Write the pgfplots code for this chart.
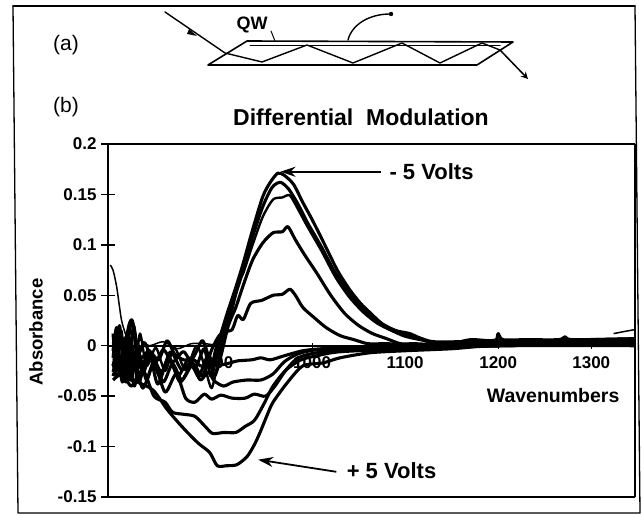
\documentclass[border=0pt]{standalone}
\usepackage{pgfplots}
\pgfplotsset{compat=1.18}
\usepackage{fontspec}
\setmainfont{Liberation Sans}
\usetikzlibrary{arrows.meta}
\tikzset{thk/.style={black,line width=3.1pt,solid,mark=none,smooth,tension=0.45,line join=round},
         thn/.style={black,line width=1.5pt,solid,mark=none,smooth,tension=0.45}}
\begin{document}
\begin{tikzpicture}[x=1pt,y=1pt,line cap=round,line join=round]
\path[use as bounding box,fill=white] (0,0) rectangle (642,514);
\begin{scope}[shift={(0,514)},y=-1pt]
\draw[line width=1.8pt] (13,6) -- (635,6);
\draw[line width=1.3pt] (635,6) -- (640,513) -- (18,513) -- (13,6);
% schematic (a)
\draw[line width=1.6pt] (247,41) -- (513,42) -- (477,65) -- (208,65) -- cycle;
\draw[line width=1pt] (250,46) -- (500,46);
\draw[line width=1.4pt] (165,12) -- (225,53) -- (262,62) -- (307,45) -- (353,63) -- (402,43) -- (440,63) -- (482,43) -- (500,50);
\draw[line width=1.5pt,-{Stealth[length=7pt,width=7pt]}] (500,50) -- (528,79);
\fill (189,29) -- (197,36) -- (187,34) -- cycle;
\draw[line width=1.4pt] (348,40) .. controls (352,24) and (370,14) .. (390,14);
\fill (391,14) circle (2.2pt);
\draw[line width=1pt] (271,31) -- (275,41);
\node[font=\bfseries\fontsize{18}{18}\selectfont,anchor=center] at (252,25) {QW};
\node[font=\fontsize{21}{21}\selectfont,anchor=center] at (66,45) {(a)};
\node[font=\fontsize{21}{21}\selectfont,anchor=center] at (66,107) {(b)};
\node[font=\bfseries\fontsize{23}{23}\selectfont,anchor=center] at (361,117) {Differential\ \ Modulation};
\node[font=\bfseries\fontsize{18.5}{18.5}\selectfont,rotate=90,anchor=center] at (36,332) {Absorbance};
\end{scope}
\begin{axis}[
  at={(108pt,17pt)},anchor=south west,scale only axis,width=527pt,height=353pt,
  xmin=780.6,xmax=1347,ymin=-0.15,ymax=0.2,
  axis x line=middle,axis y line=left,
  axis line style={line width=2pt,-},
  xtick=\empty,
  extra x ticks={800,900,1000,1100,1200,1300},
  extra x tick labels={800,900,1000,1100,1200,1300},
  extra x tick style={major tick length=6pt,tick style={line width=1pt,black}},
  ytick={-0.15,-0.1,-0.05,0,0.05,0.1,0.15,0.2},
  yticklabels={-0.15,-0.1,-0.05,0,0.05,0.1,0.15,0.2},
  scaled y ticks=false,
  /pgf/number format/assume math mode=true,
  /pgf/number format/1000 sep={},
  tick style={line width=1.3pt,black},
  major tick length=14pt,
  tick align=center,
  tick label style={font=\bfseries\fontsize{17}{17}\selectfont},
  xticklabel style={yshift=-4pt},
  yticklabel style={xshift=-1pt},
  clip=false,
]
% -5 V
\addplot[thk] coordinates {(786,.012)(789,-.012)(793,.02)(797,-.018)(802,.002)(806,.025)(811,.005)(816,-.012)(825,-.005)(835,-.014)(844,.005)(852,-.008)(862,-.014)(872,-.012)(882,.005)(889,-.012)(892,-.022)(896,-.005)(902,.012)(909,.033)(918,.058)(926,.082)(936,.115)(947,.148)(955,.162)(963,.171)(970,.169)(980,.16)(990,.142)(1000,.125)(1012,.103)(1027,.075)(1040,.056)(1052,.042)(1062,.033)(1075,.022)(1090,.015)(1105,.012)(1115,.008)(1130,.004)(1160,.004)(1200,.005)(1250,.005)(1300,.006)(1347,.007)};
% peak .16
\addplot[thk] coordinates {(786,-.005)(790,.018)(794,-.022)(799,.008)(804,-.02)(808,.02)(813,-.008)(820,.003)(830,-.018)(840,-.004)(850,-.016)(862,-.006)(874,-.022)(884,-.003)(891,-.03)(897,-.012)(903,.008)(910,.03)(918,.052)(926,.075)(936,.108)(947,.138)(957,.157)(966,.162)(975,.155)(985,.14)(995,.122)(1010,.098)(1025,.072)(1040,.052)(1052,.038)(1065,.028)(1080,.018)(1095,.012)(1110,.009)(1130,.003)(1170,.004)(1220,.004)(1280,.004)(1347,.006)};
% peak .15
\addplot[thk,line width=2.4pt] coordinates {(786,.004)(790,-.025)(795,.015)(800,-.03)(805,.008)(810,-.024)(815,.012)(822,-.02)(832,-.002)(842,-.025)(852,-.002)(864,-.024)(876,.0)(886,-.026)(892,-.042)(898,-.02)(904,.005)(912,.028)(922,.065)(926,.072)(936,.1)(947,.128)(958,.145)(968,.147)(976,.149)(985,.135)(995,.118)(1010,.094)(1025,.068)(1040,.048)(1055,.033)(1070,.022)(1085,.015)(1100,.009)(1120,.005)(1140,.002)(1200,.003)(1260,.004)(1347,.005)};
% peak .117
\addplot[thk] coordinates {(786,-.012)(790,.01)(795,-.03)(801,-.008)(806,-.034)(812,.002)(818,-.028)(826,-.008)(836,-.03)(846,-.012)(856,-.03)(868,-.012)(878,-.03)(888,-.01)(895,-.03)(902,-.01)(910,.02)(918,.038)(926,.06)(936,.085)(947,.102)(958,.112)(968,.113)(974,.118)(982,.105)(992,.09)(1005,.072)(1020,.05)(1035,.032)(1050,.02)(1065,.012)(1080,.007)(1095,.002)(1110,.002)(1140,.001)(1200,.002)(1260,.003)(1347,.004)};
% peak .055
\addplot[thk] coordinates {(786,-.02)(791,-.005)(796,-.036)(803,-.014)(809,-.04)(815,-.012)(822,-.034)(830,-.016)(840,-.036)(850,-.018)(860,-.034)(872,-.018)(882,-.03)(892,-.004)(900,.01)(906,.014)(914,.016)(920,.03)(926,.026)(934,.042)(946,.045)(958,.05)(968,.051)(976,.056)(982,.05)(990,.038)(1002,.028)(1015,.018)(1030,.01)(1045,.006)(1060,.002)(1080,.002)(1110,.001)(1170,.001)(1230,.002)(1347,.003)};
% thin
\addplot[thn] coordinates {(783,.08)(786,.075)(790,.058)(795,.026)(800,.01)(806,-.005)(814,.006)(825,.0)(840,.004)(855,-.003)(870,.002)(885,.002)(900,.0)};
\addplot[thn] coordinates {(1324,.012)(1335,.014)(1347,.016)};
% negative
\addplot[thk] coordinates {(786,-.018)(791,-.03)(797,-.01)(803,.02)(807,.024)(812,-.012)(818,-.024)(827,-.008)(838,-.026)(848,-.006)(860,-.024)(872,-.014)(880,-.02)(890,-.019)(902,-.019)(912,-.017)(920,-.015)(935,-.014)(945,-.012)(955,-.014)(970,-.01)(990,-.005)(1010,-.003)(1040,-.002)(1100,-.001)(1200,.0)(1347,.002)};
\addplot[thk] coordinates {(786,-.026)(792,-.012)(798,-.034)(806,-.006)(814,-.036)(824,-.004)(834,-.038)(846,-.012)(858,-.036)(870,-.02)(880,-.034)(888,-.026)(895,-.035)(905,-.04)(915,-.036)(930,-.034)(945,-.034)(958,-.028)(970,-.016)(985,-.008)(1005,-.004)(1040,-.003)(1100,-.002)(1200,.0)(1347,.002)};
\addplot[thk] coordinates {(786,-.03)(793,-.02)(800,-.036)(808,-.014)(818,-.042)(830,-.018)(842,-.046)(854,-.028)(864,-.052)(874,-.056)(884,-.048)(892,-.053)(902,-.049)(914,-.052)(928,-.052)(938,-.048)(950,-.05)(960,-.04)(972,-.024)(985,-.012)(1005,-.007)(1040,-.004)(1100,-.002)(1200,.0)(1347,.002)};
\addplot[thk] coordinates {(786,-.034)(796,-.028)(806,-.04)(818,-.024)(830,-.05)(842,-.056)(850,-.066)(862,-.068)(874,-.07)(885,-.08)(893,-.087)(905,-.086)(918,-.086)(928,-.08)(938,-.074)(948,-.058)(958,-.04)(972,-.024)(988,-.014)(1005,-.01)(1030,-.006)(1100,-.003)(1200,.0)(1347,.002)};
\addplot[thk] coordinates {(786,-.03)(793,-.018)(801,-.032)(812,-.036)(829,-.044)(844,-.063)(856,-.076)(866,-.086)(878,-.097)(890,-.106)(898,-.119)(908,-.119)(919,-.118)(930,-.11)(938,-.098)(944,-.086)(952,-.068)(958,-.056)(973,-.037)(990,-.02)(1012,-.017)(1030,-.012)(1062,-.007)(1100,-.005)(1150,-.003)(1200,.0)(1347,.0)};
% right-hand band
\addplot[thk] coordinates {(1130,.0)(1150,.002)(1170,.006)(1190,.005)(1198,.006)(1200,.012)(1205,.006)(1230,.006)(1265,.006)(1272,.009)(1280,.006)(1347,.007)};
\addplot[thk] coordinates {(1100,-.002)(1150,.0)(1347,.002)};
% frame
\draw[line width=2pt] (rel axis cs:0,1) -- (rel axis cs:1,1);
\draw[line width=2pt] (rel axis cs:0,0) -- (rel axis cs:1,0);
\draw[line width=1.4pt] (rel axis cs:1,0) -- (rel axis cs:1,1);
% annotations
\draw[line width=1.8pt,-{Stealth[length=15pt,width=10pt]}] (axis cs:1074,0.1725) -- (axis cs:966,0.1725);
\node[font=\bfseries\fontsize{22}{22}\selectfont,anchor=west,inner sep=0pt] at (axis cs:1083,0.1725) {- 5 Volts};
\draw[line width=1.8pt,-{Stealth[length=15pt,width=10pt]}] (axis cs:1026,-0.125) -- (axis cs:942,-0.113);
\node[font=\bfseries\fontsize{22}{22}\selectfont,anchor=west,inner sep=0pt] at (axis cs:1037,-0.124) {+ 5 Volts};
\node[font=\bfseries\fontsize{19.5}{19.5}\selectfont,anchor=center] at (axis cs:1259,-0.049) {Wavenumbers};
\end{axis}
\end{tikzpicture}
\end{document}
